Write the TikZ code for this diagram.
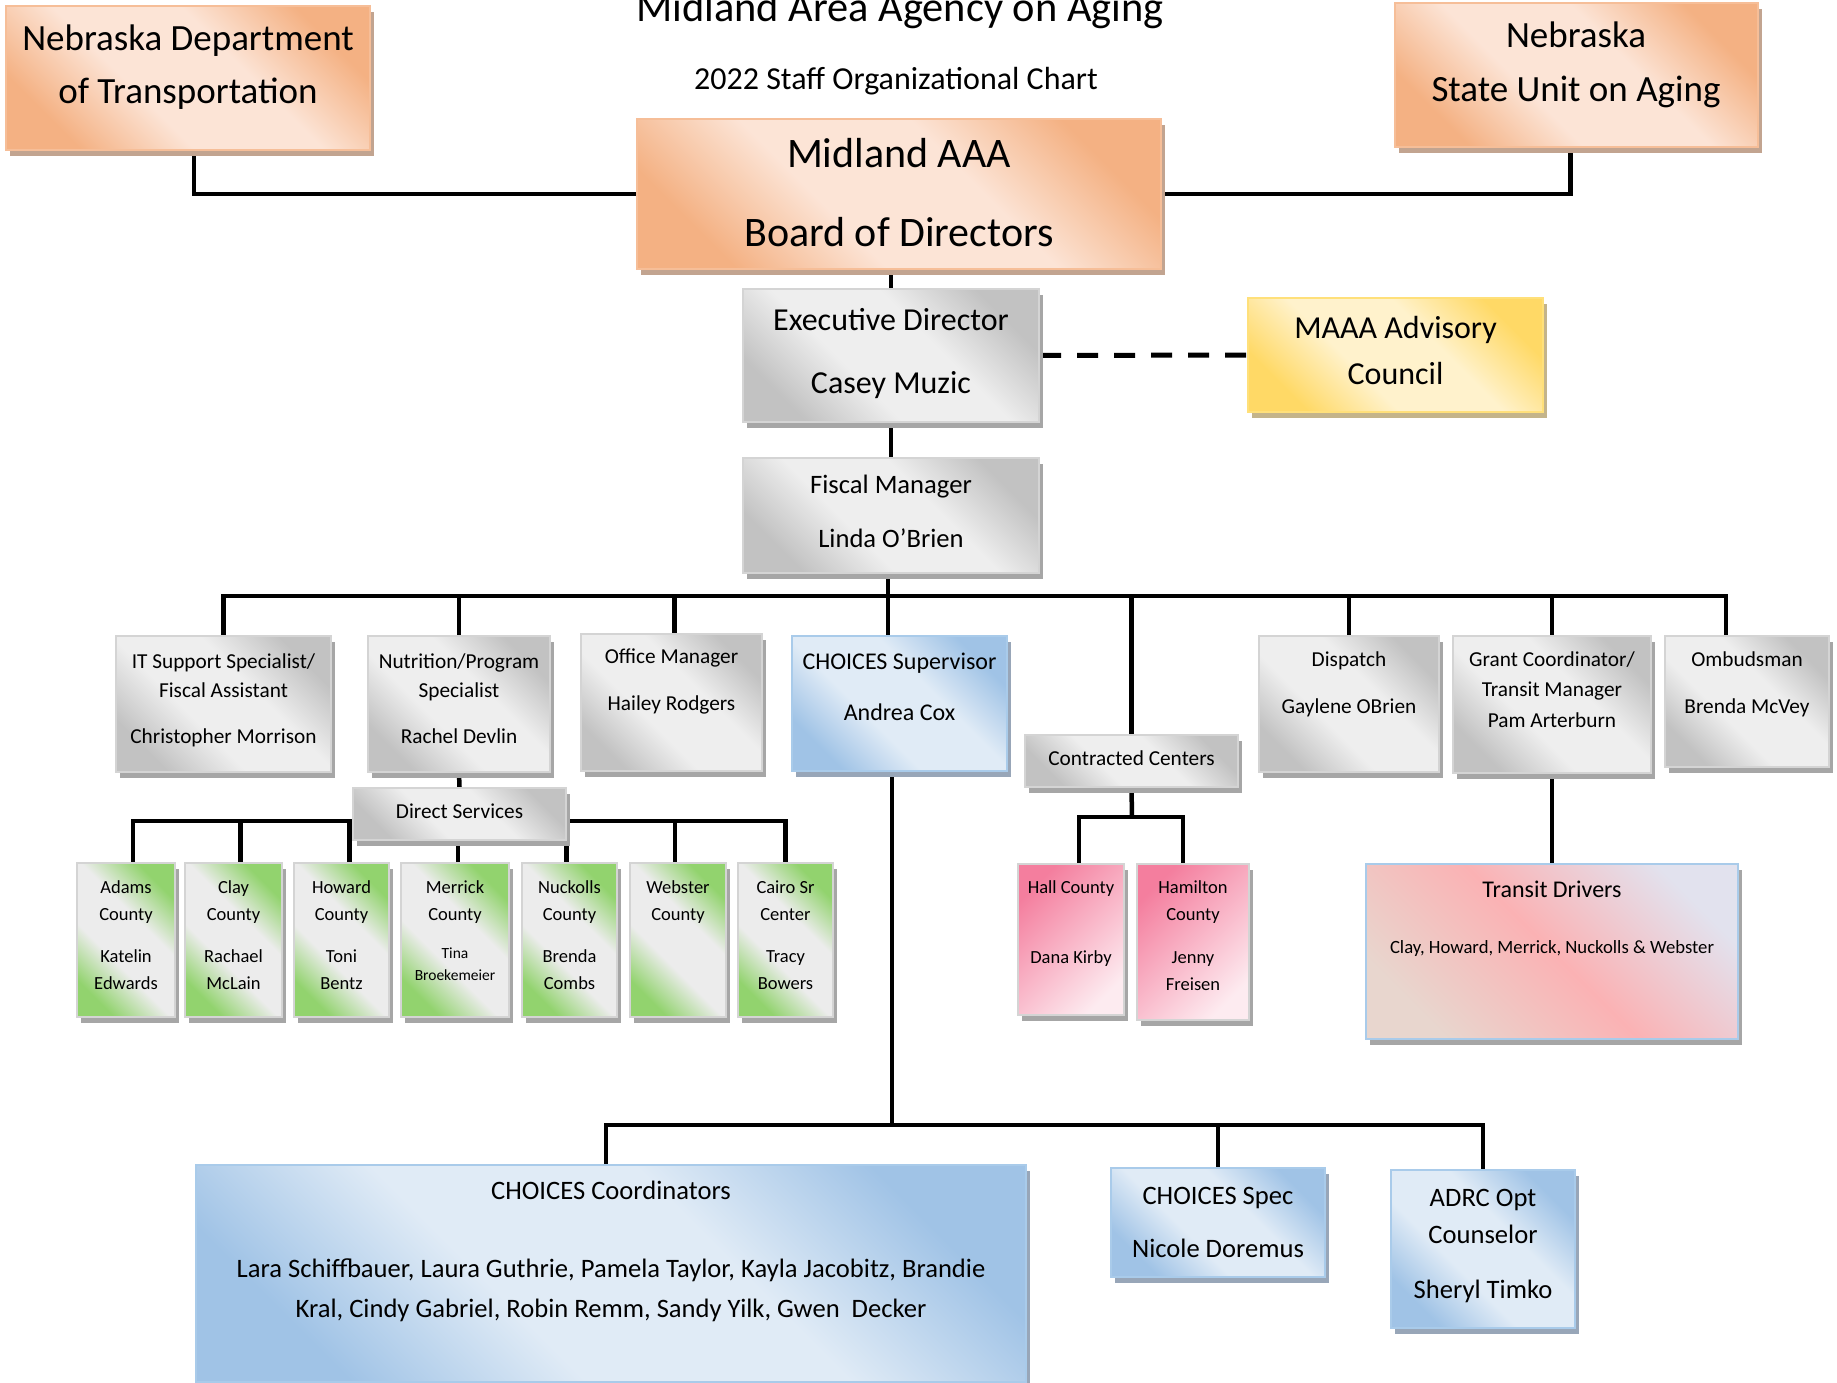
\documentclass[tikz,border=0pt]{standalone}
\usepackage{fontspec}
\setmainfont{Carlito}
\usetikzlibrary{shadows}
\pgfdeclarelayer{bg}
\pgfsetlayers{bg,main}
\definecolor{orD}{HTML}{F4B183}
\definecolor{orL}{HTML}{FCE4D6}
\definecolor{orB}{HTML}{F6BE98}
\definecolor{orS}{HTML}{C2A490}
\definecolor{gyD}{HTML}{C2C2C2}
\definecolor{gyL}{HTML}{EEEEEE}
\definecolor{gyB}{HTML}{D4D4D4}
\definecolor{gyS}{HTML}{A6A6A6}
\definecolor{blD}{HTML}{A0C3E6}
\definecolor{blL}{HTML}{E0EBF6}
\definecolor{blB}{HTML}{A9CBEA}
\definecolor{blS}{HTML}{98A6B8}
\definecolor{ylD}{HTML}{FFD966}
\definecolor{ylL}{HTML}{FFF2CC}
\definecolor{ylB}{HTML}{FFE07A}
\definecolor{ylS}{HTML}{C4B48A}
\definecolor{grD}{HTML}{92D36E}
\definecolor{grL}{HTML}{ECECEC}
\definecolor{pkD}{HTML}{F47E9E}
\definecolor{pkL}{HTML}{FDEBF0}
\definecolor{trT}{HTML}{E2E2EE}
\definecolor{trM}{HTML}{FBB2B4}
\definecolor{trB}{HTML}{E8D6CE}
\newcommand\mksh[3]{\pgfdeclareverticalshading{#1}{100bp}{color(0bp)=(#2); color(25bp)=(#2); color(41bp)=(#3); color(59bp)=(#3); color(75bp)=(#2); color(100bp)=(#2)}}
\mksh{orsh}{orD}{orL}
\mksh{gysh}{gyD}{gyL}
\mksh{blsh}{blD}{blL}
\mksh{ylsh}{ylD}{ylL}
\mksh{grsh}{grD}{grL}
\newcommand\fs[2]{\fontsize{#1}{#2}\selectfont}
\newcommand\tl[1]{\begin{tabular}[t]{@{}c@{}}#1\end{tabular}}
\newcommand\mkbox[6]{%
  \pgfmathsetmacro\mkW{#5-#3}\pgfmathsetmacro\mkH{#6-#4}%
  \pgfmathsetmacro\mkX{(#3+#5)/2}\pgfmathsetmacro\mkY{(#4+#6)/2}%
  \node[#1, minimum width=\mkW pt, minimum height=\mkH pt] (#2) at (\mkX,\mkY) {};}
\tikzset{
  boxbase/.style={rectangle, inner sep=0pt, line width=2pt},
  orangebox/.style={boxbase, draw=orB, shade, shading=orsh, shading angle=-45,
    drop shadow={shadow xshift=4pt, shadow yshift=-6pt, fill=orS, opacity=1}},
  graybox/.style={boxbase, draw=gyB, shade, shading=gysh, shading angle=-45,
    drop shadow={shadow xshift=4pt, shadow yshift=-6pt, fill=gyS, opacity=1}},
  bluebox/.style={boxbase, draw=blB, shade, shading=blsh, shading angle=-45,
    drop shadow={shadow xshift=4pt, shadow yshift=-6pt, fill=blS, opacity=1}},
  yellowbox/.style={boxbase, draw=ylB, shade, shading=ylsh, shading angle=-45,
    drop shadow={shadow xshift=4pt, shadow yshift=-6pt, fill=ylS, opacity=1}},
  greenbox/.style={boxbase, draw=gyB, shade, shading=grsh, shading angle=-45,
    drop shadow={shadow xshift=4pt, shadow yshift=-6pt, fill=gyS, opacity=1}},
  pinkbox/.style={boxbase, draw=gyB, top color=pkD, bottom color=pkL, shading angle=45,
    drop shadow={shadow xshift=4pt, shadow yshift=-6pt, fill=gyS, opacity=1}},
  transitbox/.style={boxbase, draw=blB, top color=trT, bottom color=trB, middle color=trM, shading angle=-45,
    drop shadow={shadow xshift=4pt, shadow yshift=-6pt, fill=gyS, opacity=1}},
  txt/.style={anchor=base, inner sep=0pt},
  conn/.style={line width=4.5pt, black},
  dconn/.style={line width=5pt, black, dash pattern=on 21pt off 16pt},
}
\begin{document}
\begin{tikzpicture}[x=1pt, y=-1pt]
\useasboundingbox (0,0) rectangle (1837,1383);
% titles
\node[txt, font={\fs{42.4}{50}}] (title) at (900,22) {Midland Area Agency on Aging};
\node[txt, font={\fs{32}{40}}] (subtitle) at (896,90) {2022 Staff Organizational Chart};
% top level
\mkbox{orangebox}{ndot}{6}{6}{370}{150}
\node[txt, font={\fs{37}{53}}] (ndott) at (188,51) {\tl{Nebraska Department\\of Transportation}};
\mkbox{orangebox}{nsua}{1395}{3}{1758}{147}
\node[txt, font={\fs{37}{54}}] (nsuat) at (1576,48) {\tl{Nebraska\\State Unit on Aging}};
\mkbox{orangebox}{board}{637}{119}{1161}{269}
\node[txt, font={\fs{42}{79}}] (boardt) at (899,168) {\tl{Midland AAA\\Board of Directors}};
\mkbox{graybox}{exec}{743}{289}{1039}{422}
\node[txt, font={\fs{32}{63}}] (exect) at (891,330) {\tl{Executive Director\\Casey Muzic}};
\mkbox{yellowbox}{adv}{1248}{298}{1543}{412}
\node[txt, font={\fs{32}{46}}] (advt) at (1395.5,338) {\tl{MAAA Advisory\\Council}};
\mkbox{graybox}{fiscal}{743}{458}{1039}{573}
\node[txt, font={\fs{26.6}{54}}] (fiscalt) at (891,493) {\tl{Fiscal Manager\\Linda O’Brien}};
% second level
\mkbox{graybox}{it}{116}{636}{331}{772}
\node[txt, font={\fs{21.3}{29}}] (itt) at (223.5,668) {\tl{IT Support Specialist/\\Fiscal Assistant\\[17pt]Christopher Morrison}};
\mkbox{graybox}{nut}{368}{636}{550}{772}
\node[txt, font={\fs{21.3}{29}}] (nutt) at (459,668) {\tl{Nutrition/Program\\Specialist\\[17pt]Rachel Devlin}};
\mkbox{graybox}{office}{581}{634}{762}{771}
\node[txt, font={\fs{21.3}{47}}] (officet) at (671.5,663) {\tl{Office Manager\\Hailey Rodgers}};
\mkbox{bluebox}{chsup}{792}{636}{1007}{771}
\node[txt, font={\fs{24}{51}}] (chsupt) at (899.5,669) {\tl{CHOICES Supervisor\\Andrea Cox}};
\mkbox{graybox}{cc}{1025}{735}{1238}{787}
\node[txt, font={\fs{21.3}{26}}] (cct) at (1131.5,765) {Contracted Centers};
\mkbox{graybox}{disp}{1259}{636}{1439}{772}
\node[txt, font={\fs{21.3}{47}}] (dispt) at (1349,666) {\tl{Dispatch\\Gaylene OBrien}};
\mkbox{graybox}{grant}{1453}{636}{1651}{773}
\node[txt, font={\fs{21.3}{30.5}}] (grantt) at (1552,666) {\tl{Grant Coordinator/\\Transit Manager\\Pam Arterburn}};
\mkbox{graybox}{omb}{1665}{636}{1829}{767}
\node[txt, font={\fs{21.3}{47}}] (ombt) at (1747,666) {\tl{Ombudsman\\Brenda McVey}};
% direct services
\mkbox{graybox}{ds}{353}{788}{566}{840}
\node[txt, font={\fs{21.3}{26}}] (dst) at (459.5,818) {Direct Services};
\mkbox{greenbox}{adams}{77}{863}{175}{1017}
\node[txt, font={\fs{18.5}{27}}] (adamst) at (126,893) {\tl{Adams\\County\\[15pt]Katelin\\Edwards}};
\mkbox{greenbox}{clay}{185}{863}{282}{1017}
\node[txt, font={\fs{18.5}{27}}] (clayt) at (233.5,893) {\tl{Clay\\County\\[15pt]Rachael\\McLain}};
\mkbox{greenbox}{howard}{294}{863}{389}{1017}
\node[txt, font={\fs{18.5}{27}}] (howardt) at (341.5,893) {\tl{Howard\\County\\[15pt]Toni\\Bentz}};
\mkbox{greenbox}{merrick}{401}{863}{509}{1017}
\node[txt, font={\fs{18.5}{27}}] (merrickt) at (455,893) {\tl{Merrick\\County}};
\node[txt, font={\fs{15.5}{22}}] (merrickn) at (455,958) {\tl{Tina\\Broekemeier}};
\mkbox{greenbox}{nuck}{522}{863}{617}{1017}
\node[txt, font={\fs{18.5}{27}}] (nuckt) at (569.5,893) {\tl{Nuckolls\\County\\[15pt]Brenda\\Combs}};
\mkbox{greenbox}{webster}{630}{863}{726}{1017}
\node[txt, font={\fs{18.5}{27}}] (webstert) at (678,893) {\tl{Webster\\County}};
\mkbox{greenbox}{cairo}{738}{863}{833}{1017}
\node[txt, font={\fs{18.5}{27}}] (cairot) at (785.5,893) {\tl{Cairo Sr\\Center\\[15pt]Tracy\\Bowers}};
% contracted centers
\mkbox{pinkbox}{hall}{1018}{864}{1124}{1015}
\node[txt, font={\fs{18.5}{27}}] (hallt) at (1071,893) {\tl{Hall County\\[43pt]Dana Kirby}};
\mkbox{pinkbox}{ham}{1137}{864}{1249}{1020}
\node[txt, font={\fs{18.5}{27}}] (hamt) at (1193,893) {\tl{Hamilton\\County\\[16pt]Jenny\\Freisen}};
% transit
\mkbox{transitbox}{transit}{1366}{864}{1738}{1039}
\node[txt, font={\fs{24}{30}}] (transitt) at (1552,897) {Transit Drivers};
\node[txt, font={\fs{18.7}{24}}] (transitn) at (1552,953) {Clay, Howard, Merrick, Nuckolls \& Webster};
% choices
\mkbox{bluebox}{coord}{196}{1165}{1026}{1382}
\node[txt, font={\fs{26.6}{40}}] (coordt) at (611,1199) {\tl{CHOICES Coordinators\\[38pt]Lara Schiffbauer, Laura Guthrie, Pamela Taylor, Kayla Jacobitz, Brandie\\Kral, Cindy Gabriel, Robin Remm, Sandy Yilk, Gwen\ \ Decker}};
\mkbox{bluebox}{spec}{1111}{1168}{1325}{1277}
\node[txt, font={\fs{26.6}{53}}] (spect) at (1218,1204) {\tl{CHOICES Spec\\Nicole Doremus}};
\mkbox{bluebox}{adrc}{1391}{1170}{1575}{1328}
\node[txt, font={\fs{26.6}{37}}] (adrct) at (1483,1206) {\tl{ADRC Opt\\Counselor\\[18pt]Sheryl Timko}};
% connectors
\coordinate (bus) at (891,596);
\coordinate (dsbus) at (459.5,821);
\coordinate (ccbus) at (1132,817);
\coordinate (cbus) at (892,1125);
\begin{pgfonlayer}{bg}
\fill[white] (0,0) rectangle (1837,1383);
\draw[conn] ([xshift=6pt]ndot.south) |- (board.west);
\draw[conn] ([xshift=-6pt]nsua.south) |- (board.east);
\draw[conn] (exec.north) -- (exec.north |- board.south);
\draw[dconn] (exec.east) -- (adv.west);
\draw[conn] (exec.south) -- (fiscal.north);
\draw[conn] ([xshift=-3pt]fiscal.south) -- ([xshift=-3pt]fiscal.south |- chsup.north);
\draw[conn] (it.north) |- (bus) -| ([xshift=-21pt]omb.north);
\draw[conn] (nut.north) -- (nut.north |- bus);
\draw[conn] ([xshift=3pt]office.north) -- ([xshift=3pt]office.north |- bus);
\draw[conn] (cc.north) -- (cc.north |- bus);
\draw[conn] (disp.north) -- (disp.north |- bus);
\draw[conn] (grant.north) -- (grant.north |- bus);
\draw[conn] (nut.south) -- (ds.north);
\draw[conn] ([xshift=7pt]adams.north) |- (dsbus) -| (cairo.north);
\draw[conn] ([xshift=7pt]clay.north) -- ([xshift=7pt]clay.north |- dsbus);
\draw[conn] ([xshift=8pt]howard.north) -- ([xshift=8pt]howard.north |- dsbus);
\draw[conn] ([xshift=3pt]merrick.north) -- ([xshift=3pt]merrick.north |- ds.south);
\draw[conn] ([xshift=-3pt]nuck.north) -- ([xshift=-3pt]nuck.north |- dsbus);
\draw[conn] ([xshift=-3pt]webster.north) -- ([xshift=-3pt]webster.north |- dsbus);
\draw[conn] (cc.south) -- (ccbus);
\draw[conn] ([xshift=8pt]hall.north) |- (ccbus) -| ([xshift=-10pt]ham.north);
\draw[conn] (grant.south) -- (transit.north);
\draw[conn] (cbus |- chsup.south) -- (cbus);
\draw[conn] ([xshift=-5pt]coord.north) |- (cbus) -| (adrc.north);
\draw[conn] (spec.north) -- (spec.north |- cbus);
\end{pgfonlayer}
\end{tikzpicture}
\end{document}
